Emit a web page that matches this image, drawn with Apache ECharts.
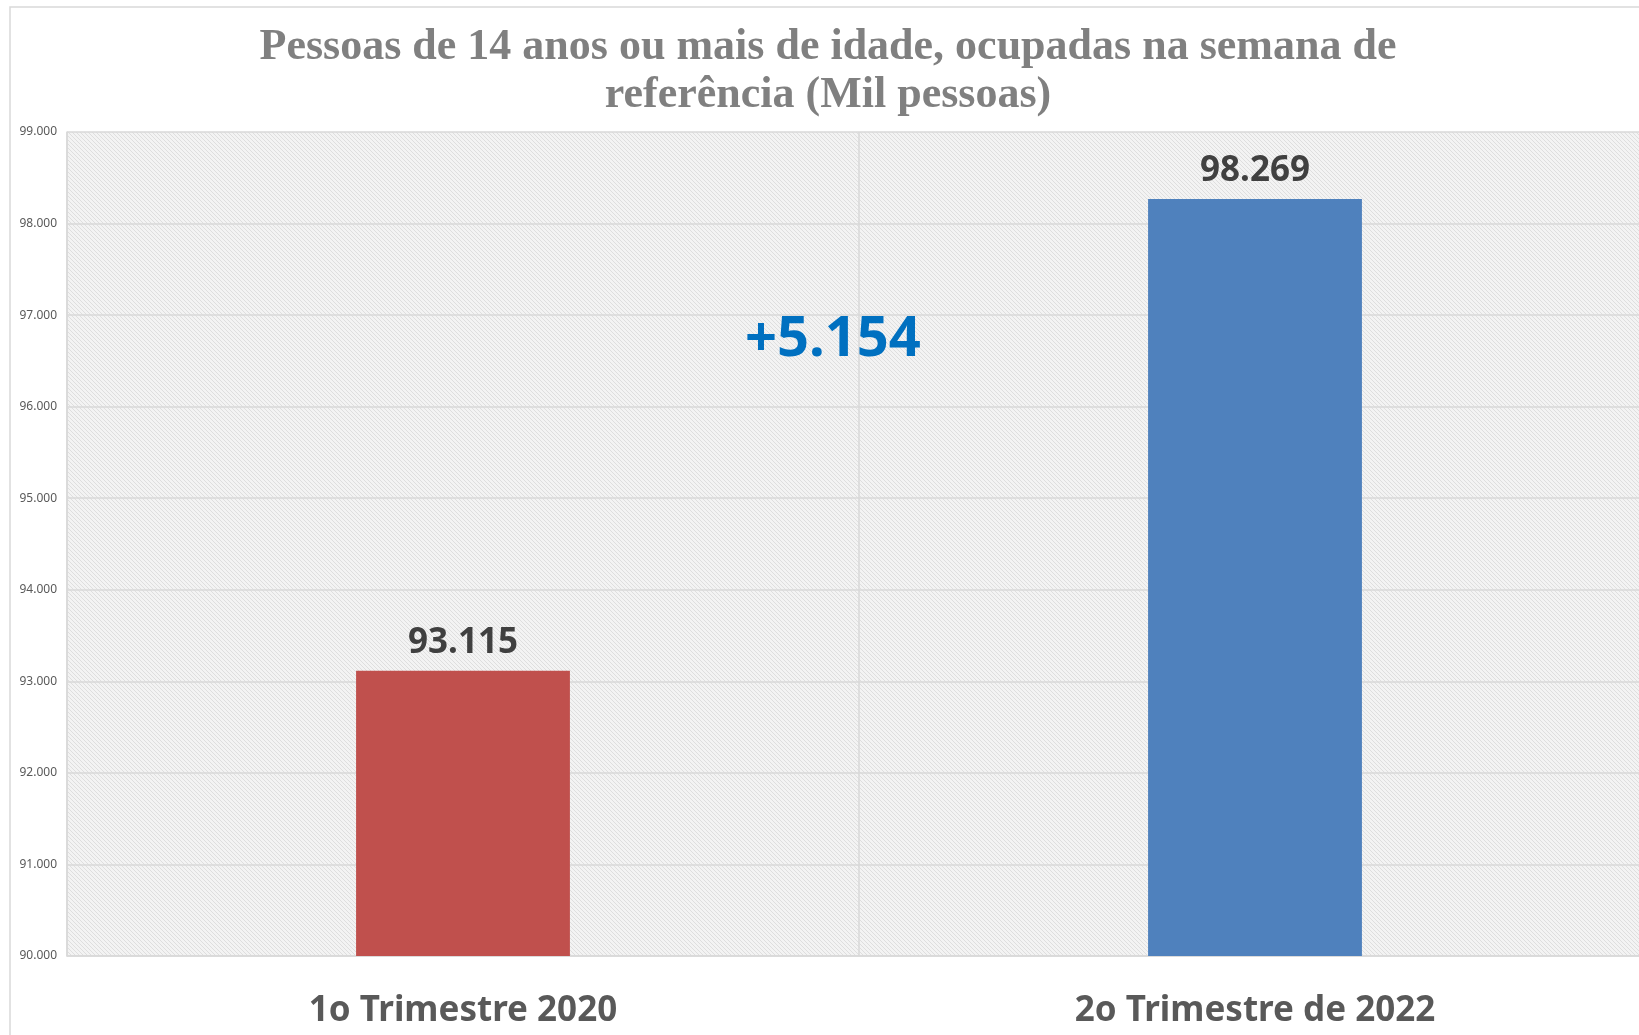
<!DOCTYPE html>
<html>
<head>
<meta charset="utf-8">
<script src="https://cdn.jsdelivr.net/npm/echarts@6/dist/echarts.min.js"></script>
<style>
  html, body { margin: 0; padding: 0; background: #fff; overflow: hidden; }
  #main { width: 1651px; height: 1035px; }
</style>
</head>
<body>
<div id="main"></div>
<script>
// dados do grafico
var categorias = ['1o Trimestre 2020', '2o Trimestre de 2022'];
var ocupados = [93115, 98269];
var cores = ['#C0504D', '#4F81BD'];
var eixoMin = 90000;
var eixoMax = 99000;
var eixoPasso = 1000;

function fmtMil(v) {
  // 93115 -> "93.115"
  var s = String(Math.round(v));
  return s.replace(/\B(?=(\d{3})+(?!\d))/g, '.');
}

// fundo hachurado da area de plotagem
function hachura() {
  var c = document.createElement('canvas');
  c.width = 4; c.height = 4;
  var ctx = c.getContext('2d');
  ctx.fillStyle = '#f3f3f3';
  ctx.fillRect(0, 0, 4, 4);
  ctx.strokeStyle = '#dedede';
  ctx.lineWidth = 1;
  ctx.beginPath();
  ctx.moveTo(-1, -1); ctx.lineTo(5, 5);
  ctx.moveTo(-1, 3); ctx.lineTo(1, 5);
  ctx.moveTo(3, -1); ctx.lineTo(5, 1);
  ctx.stroke();
  return { image: c, repeat: 'repeat' };
}

var chart = echarts.init(document.getElementById('main'));
var diferenca = ocupados[1] - ocupados[0];

var option = {
  backgroundColor: '#ffffff',
  animation: false,
  title: {
    text: 'Pessoas de 14 anos ou mais de idade, ocupadas na semana de\nreferência (Mil pessoas)',
    left: 823,
    textAlign: 'center',
    top: 19,
    textStyle: {
      fontFamily: 'Liberation Serif',
      fontWeight: 'bold',
      fontSize: 44,
      lineHeight: 48,
      color: '#808080'
    }
  },
  graphic: [
    {
      type: 'rect',
      shape: { x: 10, y: 7, width: 1700, height: 1100 },
      style: { fill: 'none', stroke: '#d9d9d9', lineWidth: 1.5 },
      z: -10
    },
    {
      type: 'text',
      left: 745,
      top: 312,
      style: {
        text: '+' + fmtMil(diferenca),
        font: 'bold 56px "Noto Sans"',
        fill: '#0070C0'
      },
      z: 100
    }
  ],
  grid: {
    left: 67,
    right: 0,
    top: 132,
    bottom: 79,
    show: true,
    backgroundColor: hachura(),
    borderWidth: 0
  },
  xAxis: {
    type: 'category',
    data: categorias,
    axisLine: { show: true, lineStyle: { color: '#d9d9d9', width: 1.5 } },
    axisTick: { show: false },
    splitLine: { show: true, lineStyle: { color: '#d9d9d9', width: 1.5 } },
    axisLabel: {
      margin: 38,
      fontFamily: 'Noto Sans',
      fontWeight: 'bold',
      fontSize: 35,
      color: '#595959'
    }
  },
  yAxis: {
    type: 'value',
    min: eixoMin,
    max: eixoMax,
    interval: eixoPasso,
    axisLine: { show: true, lineStyle: { color: '#d9d9d9', width: 1.5 } },
    axisTick: { show: false },
    splitLine: { show: true, lineStyle: { color: '#d9d9d9', width: 1.5 } },
    axisLabel: {
      margin: 10,
      fontFamily: 'Noto Sans',
      fontSize: 12,
      color: '#595959',
      formatter: function (v) { return fmtMil(v); }
    }
  },
  series: [{
    type: 'bar',
    barWidth: '27%',
    data: ocupados.map(function (v, i) {
      return { value: v, itemStyle: { color: cores[i] } };
    }),
    label: {
      show: true,
      position: 'top',
      distance: 10,
      fontFamily: 'Noto Sans',
      fontWeight: 'bold',
      fontSize: 35,
      color: '#404040',
      formatter: function (p) { return fmtMil(p.value); }
    }
  }]
};

chart.setOption(option);
</script>
</body>
</html>
